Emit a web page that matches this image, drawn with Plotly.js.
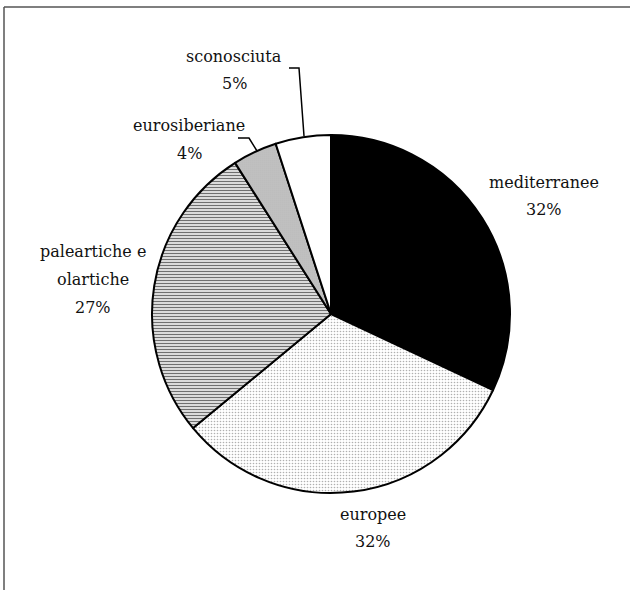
<!DOCTYPE html>
<html>
<head>
<meta charset="utf-8">
<script src="https://cdn.plot.ly/plotly-3.0.1.min.js"></script>
<style>html,body{margin:0;padding:0;background:#fff;}#chart{width:630px;height:590px;}</style>
</head>
<body>
<div id="chart"></div>
<script>
// Data
var categories = ["mediterranee", "europee", "paleartiche e|olartiche", "eurosiberiane", "sconosciuta"];
var values = [32, 32, 27, 4, 5];
var pctLabels = ["32%", "32%", "27%", "4%", "5%"];

var W = 630, H = 590;
function px(x) { return x / W; }
function py(y) { return 1 - y / H; }

var trace = {
  type: "pie",
  labels: categories.map(function (c) { return c.replace("|", " "); }),
  values: values,
  sort: false,
  direction: "clockwise",
  rotation: 0,
  textinfo: "none",
  hoverinfo: "label+percent",
  showlegend: false,
  domain: { x: [px(152), px(510)], y: [py(493), py(135)] },
  marker: {
    colors: ["#000000", "#ffffff", "#ffffff", "#ffffff", "#ffffff"],
    line: { color: "#000000", width: 2 },
    pattern: {
      shape: ["", ".", "-", ".", ""],
      fgcolor: ["#000000", "#b0b0b0", "#707070", "#8a8a8a", "#ffffff"],
      bgcolor: ["#000000", "#ffffff", "#ffffff", "#e0e0e0", "#ffffff"],
      size: [4, 3, 3, 2, 4],
      solidity: [0.3, 0.22, 0.5, 0.4, 0.3],
      fillmode: "replace"
    }
  }
};

// label placement: centre x and first-line baseline (pixels)
var labelX = [544, 373, 93, 189, 234];
var labelBase = [187, 519, 257, 131, 61];
var lineGap = 27.5;
var annotations = [];
categories.forEach(function (c, i) {
  var lines = c.split("|").concat([pctLabels[i]]);
  lines.forEach(function (t, j) {
    annotations.push({
      xref: "paper", yref: "paper",
      x: px(labelX[i]), y: py(labelBase[i] + j * lineGap - 5),
      xanchor: "center", yanchor: "middle",
      text: t,
      showarrow: false,
      font: { family: "DejaVu Serif", size: 16, color: "#111111" }
    });
  });
});

function path(pts) {
  return pts.map(function (p, i) { return (i ? "L" : "M") + px(p[0]) + "," + py(p[1]); }).join(" ");
}

var shapes = [
  { type: "path", xref: "paper", yref: "paper", path: path([[289, 68], [299, 68], [304, 136]]), line: { color: "#000", width: 1.5 } },
  { type: "path", xref: "paper", yref: "paper", path: path([[238, 138], [249, 138], [257, 151]]), line: { color: "#000", width: 1.5 } },
  { type: "line", xref: "paper", yref: "paper", x0: px(4), y0: py(7), x1: 1, y1: py(7), line: { color: "#555", width: 1.5 } },
  { type: "line", xref: "paper", yref: "paper", x0: px(4), y0: py(7), x1: px(4), y1: 0, line: { color: "#555", width: 1.5 } }
];

var layout = {
  width: W, height: H,
  margin: { l: 0, r: 0, t: 0, b: 0 },
  paper_bgcolor: "#ffffff",
  plot_bgcolor: "#ffffff",
  font: { family: "DejaVu Serif" },
  annotations: annotations,
  shapes: shapes
};

Plotly.newPlot("chart", [trace], layout, { displayModeBar: false, staticPlot: true });
</script>
</body>
</html>
